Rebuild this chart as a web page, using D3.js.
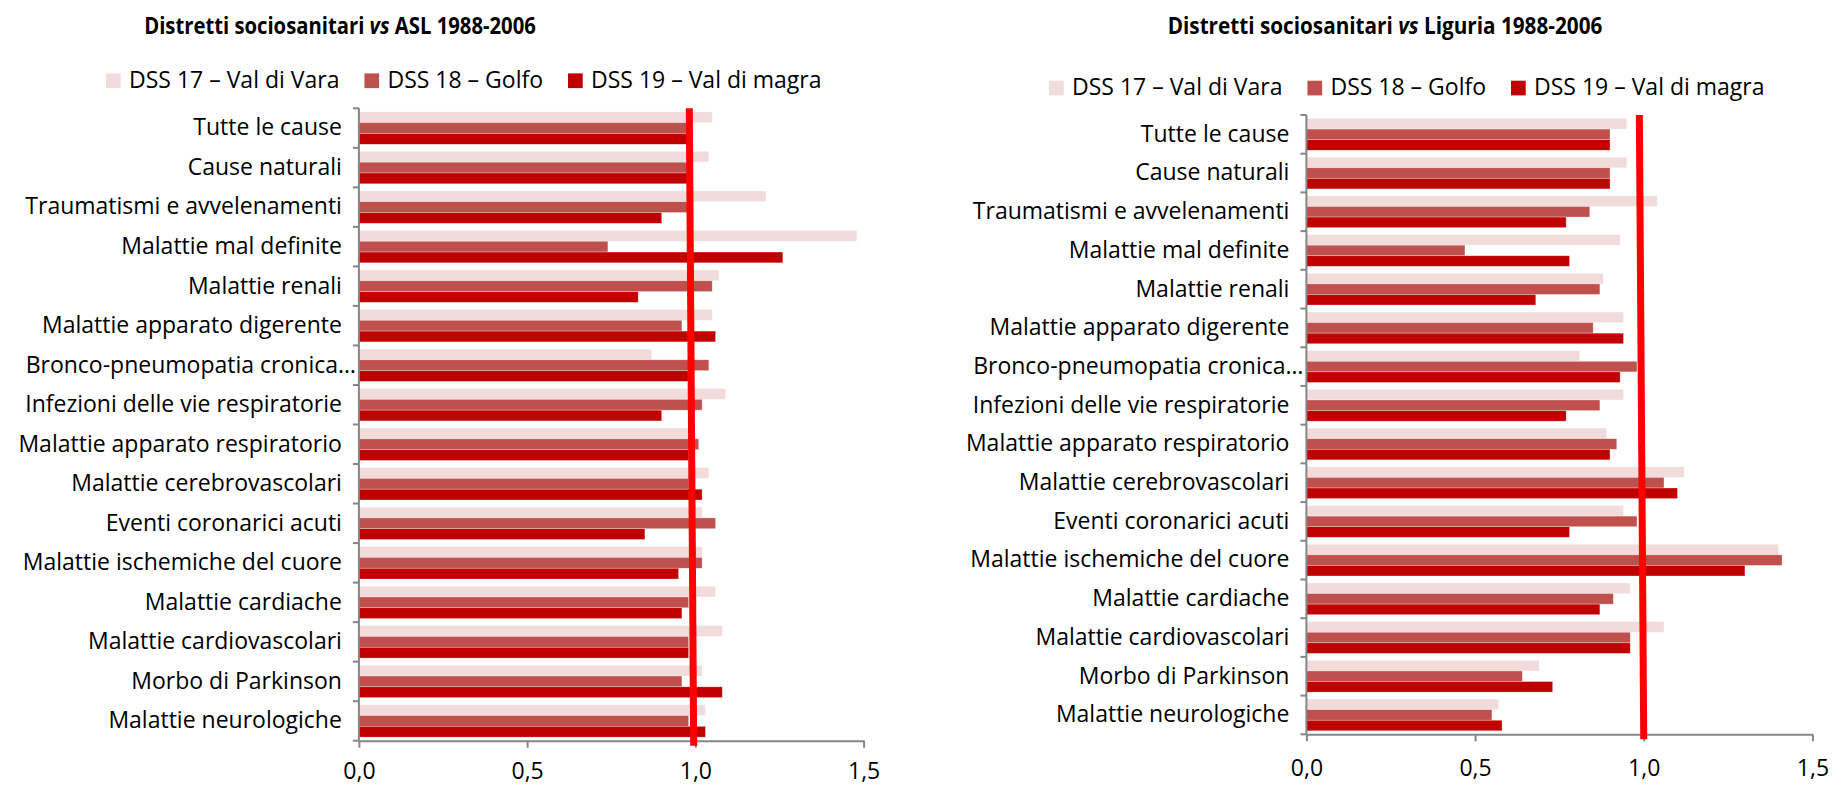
<!DOCTYPE html>
<html>
<head>
<meta charset="utf-8">
<script src="https://cdn.jsdelivr.net/npm/d3@7"></script>
<style>
  body { margin: 0; background: #fff; }
  text { font-family: "Open Sans", "Noto Sans", sans-serif; fill: #000; }
</style>
</head>
<body>
<div id="chart"></div>
<script>
// Categories, top to bottom
const categories = [
    'Tutte le cause',
    'Cause naturali',
    'Traumatismi e avvelenamenti',
    'Malattie mal definite',
    'Malattie renali',
    'Malattie apparato digerente',
    'Bronco-pneumopatia cronica…',
    'Infezioni delle vie respiratorie',
    'Malattie apparato respiratorio',
    'Malattie cerebrovascolari',
    'Eventi coronarici acuti',
    'Malattie ischemiche del cuore',
    'Malattie cardiache',
    'Malattie cardiovascolari',
    'Morbo di Parkinson',
    'Malattie neurologiche'
];

const seriesNames = ['DSS 17 – Val di Vara', 'DSS 18 – Golfo', 'DSS 19 – Val di magra'];
const seriesColors = ['#F2DCDB', '#C0504D', '#C00000'];
const xTicks = [0, 0.5, 1, 1.5];

// Distretti vs ASL
const aslValVara  = [1.05, 1.04, 1.21, 1.48, 1.07, 1.05, 0.87, 1.09, 0.99, 1.04, 1.02, 1.02, 1.06, 1.08, 1.02, 1.03];
const aslGolfo    = [0.98, 0.98, 0.98, 0.74, 1.05, 0.96, 1.04, 1.02, 1.01, 0.98, 1.06, 1.02, 0.98, 0.98, 0.96, 0.98];
const aslValMagra = [0.98, 0.98, 0.90, 1.26, 0.83, 1.06, 0.98, 0.90, 0.98, 1.02, 0.85, 0.95, 0.96, 0.98, 1.08, 1.03];
const aslRefLine  = [0.982, 0.995]; // hand drawn red line, value at top and at bottom

// Distretti vs Liguria
const ligValVara  = [0.95, 0.95, 1.04, 0.93, 0.88, 0.94, 0.81, 0.94, 0.89, 1.12, 0.94, 1.40, 0.96, 1.06, 0.69, 0.57];
const ligGolfo    = [0.90, 0.90, 0.84, 0.47, 0.87, 0.85, 0.98, 0.87, 0.92, 1.06, 0.98, 1.41, 0.91, 0.96, 0.64, 0.55];
const ligValMagra = [0.90, 0.90, 0.77, 0.78, 0.68, 0.94, 0.93, 0.77, 0.90, 1.10, 0.78, 1.30, 0.87, 0.96, 0.73, 0.58];
const ligRefLine  = [0.987, 1.0];

const width = 1832;
const height = 786;

const svg = d3.select('#chart').append('svg')
    .attr('width', width)
    .attr('height', height);

svg.append('rect').attr('width', width).attr('height', height).attr('fill', '#fff');

// Italian number format: 0,5
const fmt = d3.formatLocale({ decimal: ',', thousands: '.', grouping: [3], currency: ['€', ''] }).format('.1f');

const axisColor = '#868686';
const fontSize = 23;

function drawPanel(opt) {
    const g = svg.append('g');

    const x = d3.scaleLinear().domain([0, 1.5]).range([opt.left, opt.right]);
    const y = d3.scaleBand()
        .domain(categories)
        .range([opt.top, opt.bottom])
        .paddingInner(0.18)
        .paddingOuter(0.09);
    const ySub = d3.scaleBand().domain(d3.range(seriesNames.length)).range([0, y.bandwidth()]);

    // Title: the original font is narrower, so squeeze horizontally to its width
    const titleG = g.append('g');
    const title = titleG.append('text')
        .attr('x', 0)
        .attr('y', 0)
        .attr('text-anchor', 'middle')
        .style('font-size', '23px')
        .style('font-weight', 'bold');
    title.append('tspan').text(opt.title[0]);
    title.append('tspan').style('font-style', 'italic').text(opt.title[1]);
    title.append('tspan').text(opt.title[2]);
    const sx = Math.min(1, opt.titleWidth / title.node().getComputedTextLength());
    titleG.attr('transform', `translate(${opt.titleX},34) scale(${sx},1)`);

    // Legend
    let lx = opt.legendX;
    seriesNames.forEach((name, s) => {
        g.append('rect')
            .attr('x', lx)
            .attr('y', opt.legendY - 7.3)
            .attr('width', 14.7)
            .attr('height', 14.7)
            .attr('fill', seriesColors[s]);
        const t = g.append('text')
            .attr('x', lx + 23)
            .attr('y', opt.legendY)
            .attr('dy', '0.32em')
            .style('font-size', fontSize + 'px')
            .text(name);
        lx += 23 + t.node().getComputedTextLength() + 25;
    });

    // Bars
    opt.series.forEach((vals, s) => {
        g.selectAll(null)
            .data(vals)
            .enter().append('rect')
            .attr('x', x(0))
            .attr('y', (d, i) => y(categories[i]) + ySub(s))
            .attr('width', d => x(d) - x(0))
            .attr('height', ySub.bandwidth())
            .attr('fill', seriesColors[s])
            .attr('stroke', '#fff')
            .attr('stroke-opacity', 0.5)
            .attr('stroke-width', 0.6);
    });

    // Category axis: line plus ticks at band boundaries
    g.append('line')
        .attr('x1', x(0)).attr('x2', x(0))
        .attr('y1', opt.top).attr('y2', opt.bottom)
        .attr('stroke', axisColor).attr('stroke-width', 2);
    g.selectAll(null)
        .data(d3.range(categories.length + 1))
        .enter().append('line')
        .attr('x1', x(0) - 6).attr('x2', x(0))
        .attr('y1', i => opt.top + i * y.step())
        .attr('y2', i => opt.top + i * y.step())
        .attr('stroke', axisColor).attr('stroke-width', 2);

    g.selectAll(null)
        .data(categories)
        .enter().append('text')
        .attr('x', d => d.endsWith('…') ? x(0) - 3 : x(0) - 17)
        .attr('y', d => y(d) + y.bandwidth() / 2)
        .attr('dy', '0.32em')
        .attr('text-anchor', 'end')
        .style('font-size', fontSize + 'px')
        .text(d => d);

    // Value axis
    const xAxis = g.append('g')
        .attr('transform', `translate(0,${opt.bottom})`)
        .call(d3.axisBottom(x).tickValues(xTicks).tickFormat(fmt).tickSizeInner(7).tickSizeOuter(0));
    xAxis.select('.domain').attr('stroke', axisColor).attr('stroke-width', 2);
    xAxis.selectAll('.tick line').attr('stroke', axisColor).attr('stroke-width', 2);
    xAxis.selectAll('.tick text')
        .attr('y', opt.tickLabelY)
        .attr('dy', 0)
        .attr('fill', '#000')
        .style('font-size', fontSize + 'px')
        .style('font-family', '"Open Sans", "Noto Sans", sans-serif');

    // Red reference line near 1
    g.append('line')
        .attr('x1', x(opt.refLine[0]))
        .attr('y1', opt.top)
        .attr('x2', x(opt.refLine[1]))
        .attr('y2', opt.bottom + 5)
        .attr('stroke', '#FF0000')
        .attr('stroke-width', 7);
}

drawPanel({
    title: ['Distretti sociosanitari ', 'vs', ' ASL 1988-2006'],
    titleX: 340,
    titleWidth: 392,
    legendX: 106,
    legendY: 80.7,
    left: 358.9,
    right: 863.6,
    top: 108.3,
    bottom: 740.7,
    tickLabelY: 38.2,
    series: [aslValVara, aslGolfo, aslValMagra],
    refLine: aslRefLine
});

drawPanel({
    title: ['Distretti sociosanitari ', 'vs', ' Liguria 1988-2006'],
    titleX: 1385,
    titleWidth: 435,
    legendX: 1049,
    legendY: 88,
    left: 1306.4,
    right: 1812.4,
    top: 115,
    bottom: 734.3,
    tickLabelY: 41.5,
    series: [ligValVara, ligGolfo, ligValMagra],
    refLine: ligRefLine
});
</script>
</body>
</html>
